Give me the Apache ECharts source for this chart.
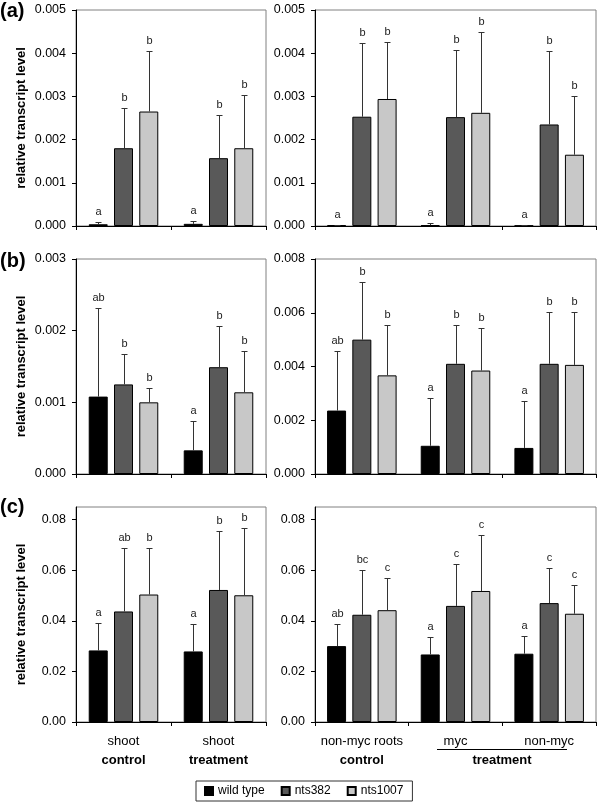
<!DOCTYPE html>
<html>
<head>
<meta charset="utf-8">
<script src="https://cdn.jsdelivr.net/npm/echarts@6/dist/echarts.min.js"></script>
<style>
  html, body { margin: 0; padding: 0; background: #fff; }
  #chart { width: 600px; height: 805px; }
</style>
</head>
<body>
<div id="chart"></div>
<script>
// genotypes (legend) and categories
const genotypes = ['wild type', 'nts382', 'nts1007'];
const shootGroups = ['control', 'treatment'];
const shootTissue = ['shoot', 'shoot'];
const rootGroups = ['control', 'treatment', 'treatment'];
const rootTissue = ['non-myc roots', 'myc', 'non-myc'];

// y tick labels per row
const ticksA = [0, 0.001, 0.002, 0.003, 0.004, 0.005];
const ticksBShoot = [0, 0.001, 0.002, 0.003];
const ticksBRoot = [0, 0.002, 0.004, 0.006, 0.008];
const ticksC = [0, 0.02, 0.04, 0.06, 0.08];

// (a) mean / sd / letters, one row per genotype
const aShootMean = [[0.00004, 0.00005], [0.0018, 0.00157], [0.00265, 0.0018]];
const aShootSd = [[0.00006, 0.00007], [0.00092, 0.00101], [0.0014, 0.00123]];
const aShootLetters = [['a', 'a'], ['b', 'b'], ['b', 'b']];
const aRootMean = [[0.00002, 0.00002, 0.00001], [0.00253, 0.00252, 0.00235], [0.00294, 0.00262, 0.00165]];
const aRootSd = [[0.00001, 0.00006, 0.00001], [0.00171, 0.00155, 0.00169], [0.00133, 0.00186, 0.00137]];
const aRootLetters = [['a', 'a', 'a'], ['b', 'b', 'b'], ['b', 'b', 'b']];

// (b)
const bShootMean = [[0.00108, 0.00033], [0.00125, 0.00149], [0.001, 0.00114]];
const bShootSd = [[0.00123, 0.00041], [0.00043, 0.00057], [0.0002, 0.00057]];
const bShootLetters = [['ab', 'a'], ['b', 'b'], ['b', 'b']];
const bRootMean = [[0.00236, 0.00105, 0.00097], [0.005, 0.0041, 0.0041], [0.00367, 0.00385, 0.00406]];
const bRootSd = [[0.00221, 0.00178, 0.00175], [0.00216, 0.00144, 0.00191], [0.00187, 0.00159, 0.00195]];
const bRootLetters = [['ab', 'a', 'a'], ['b', 'b', 'b'], ['b', 'b', 'b']];

// (c)
const cShootMean = [[0.0283, 0.0279], [0.0437, 0.0522], [0.0504, 0.0501]];
const cShootSd = [[0.011, 0.011], [0.025, 0.0235], [0.0183, 0.0265]];
const cShootLetters = [['a', 'a'], ['ab', 'b'], ['b', 'b']];
const cRootMean = [[0.030, 0.0267, 0.027], [0.0424, 0.0459, 0.047], [0.0442, 0.0518, 0.0428]];
const cRootSd = [[0.0089, 0.0069, 0.0071], [0.0175, 0.0167, 0.0138], [0.0129, 0.0221, 0.0113]];
const cRootLetters = [['ab', 'a', 'a'], ['bc', 'c', 'c'], ['c', 'c', 'c']];

const colors = ['#000000', '#595959', '#c8c8c8'];
const FONT = 'Liberation Sans, Arial, sans-serif';
const BAR_W = 19;
const BAR_STEP = BAR_W * 1.33; // bar width + gap

const panels = [
  { left: 76, top: 10, width: 190, height: 216, cats: shootGroups, mean: aShootMean, sd: aShootSd, letters: aShootLetters, ticks: ticksA, max: 0.005, digits: 3 },
  { left: 315, top: 10, width: 281, height: 216, cats: rootTissue, mean: aRootMean, sd: aRootSd, letters: aRootLetters, ticks: ticksA, max: 0.005, digits: 3 },
  { left: 76, top: 259, width: 190, height: 215, cats: shootGroups, mean: bShootMean, sd: bShootSd, letters: bShootLetters, ticks: ticksBShoot, max: 0.003, digits: 3 },
  { left: 315, top: 259, width: 281, height: 215, cats: rootTissue, mean: bRootMean, sd: bRootSd, letters: bRootLetters, ticks: ticksBRoot, max: 0.008, digits: 3 },
  { left: 76, top: 507, width: 190, height: 215, cats: shootGroups, mean: cShootMean, sd: cShootSd, letters: cShootLetters, ticks: ticksC, max: 0.085, digits: 2, labels: 'shoot' },
  { left: 315, top: 507, width: 281, height: 215, cats: rootTissue, mean: cRootMean, sd: cRootSd, letters: cRootLetters, ticks: ticksC, max: 0.085, digits: 2, labels: 'root' }
];

const grid = [], xAxis = [], yAxis = [], series = [];

panels.forEach(function (p, i) {
  grid.push({
    left: p.left, top: p.top, width: p.width, height: p.height,
    show: true, borderColor: '#808080', borderWidth: 1
  });

  let axisLabel = { show: false };
  if (p.labels === 'shoot') {
    axisLabel = {
      show: true, interval: 0, margin: 10,
      formatter: function (v, idx) { return '{a|' + shootTissue[idx] + '}\n{b|' + v + '}'; },
      rich: {
        a: { fontSize: 13, fontFamily: FONT, color: '#000', lineHeight: 19 },
        b: { fontSize: 13, fontFamily: FONT, color: '#000', fontWeight: 'bold', lineHeight: 19 }
      }
    };
  } else if (p.labels === 'root') {
    axisLabel = {
      show: true, interval: 0, margin: 10,
      formatter: function (v, idx) {
        return idx === 0 ? '{a|' + v + '}\n{b|' + rootGroups[idx] + '}' : '{a|' + v + '}\n{b| }';
      },
      rich: {
        a: { fontSize: 13, fontFamily: FONT, color: '#000', lineHeight: 19 },
        b: { fontSize: 13, fontFamily: FONT, color: '#000', fontWeight: 'bold', lineHeight: 19 }
      }
    };
  }

  xAxis.push({
    type: 'category', gridIndex: i, data: p.cats,
    axisLine: { show: true, lineStyle: { color: '#000', width: 1 } },
    axisTick: { show: true, length: 4, lineStyle: { color: '#000' } },
    axisLabel: axisLabel
  });

  const isLeft = i % 2 === 0;
  yAxis.push({
    type: 'value', gridIndex: i, min: 0, max: p.max, interval: p.ticks[1],
    splitLine: { show: false },
    axisLine: { show: true, lineStyle: { color: '#000', width: 1 } },
    axisTick: { show: true, length: 4, lineStyle: { color: '#000' }, customValues: p.ticks },
    axisLabel: {
      customValues: p.ticks, showMaxLabel: true, showMinLabel: true,
      margin: 10, fontSize: 12.5, fontFamily: FONT, color: '#000',
      formatter: function (v) { return v.toFixed(p.digits); }
    },
    name: isLeft ? 'relative transcript level' : '',
    nameLocation: 'middle', nameGap: 48,
    nameTextStyle: { fontSize: 13, fontWeight: 'bold', fontFamily: FONT, color: '#000' }
  });

  genotypes.forEach(function (g, gi) {
    series.push({
      type: 'bar', name: g, xAxisIndex: i, yAxisIndex: i,
      data: p.mean[gi], barWidth: BAR_W, barGap: '33%',
      itemStyle: { color: colors[gi], borderColor: '#000', borderWidth: 1 },
      emphasis: { disabled: true }
    });
  });

  // error bars + significance letters
  const errData = [], errLetters = [];
  p.mean.forEach(function (row, gi) {
    row.forEach(function (m, ci) {
      errData.push([ci, gi, m, m + p.sd[gi][ci]]);
      errLetters.push(p.letters[gi][ci]);
    });
  });
  series.push({
    type: 'custom', xAxisIndex: i, yAxisIndex: i, z: 5,
    data: errData,
    renderItem: function (params, api) {
      const base = api.coord([api.value(0), api.value(2)]);
      const top = api.coord([api.value(0), api.value(3)]);
      const x = Math.round(base[0] + (api.value(1) - 1) * BAR_STEP) + 0.5;
      const yt = Math.round(top[1]) + 0.5;
      return {
        type: 'group',
        children: [
          { type: 'line', shape: { x1: x, y1: base[1], x2: x, y2: yt }, style: { stroke: '#333', lineWidth: 1 } },
          { type: 'line', shape: { x1: x - 3, y1: yt, x2: x + 3, y2: yt }, style: { stroke: '#333', lineWidth: 1 } },
          { type: 'text', x: x, y: yt - 11, style: { text: errLetters[params.dataIndex], fontSize: 11, fontFamily: FONT, fill: '#222', align: 'center', verticalAlign: 'middle' } }
        ]
      };
    }
  });
});

const chart = echarts.init(document.getElementById('chart'));
chart.setOption({
  animation: false,
  backgroundColor: '#fff',
  textStyle: { fontFamily: FONT },
  grid: grid,
  xAxis: xAxis,
  yAxis: yAxis,
  series: series,
  legend: {
    data: genotypes,
    left: 196, top: 781,
    icon: 'rect', itemWidth: 8, itemHeight: 8, itemGap: 16,
    padding: [4, 9, 4, 8],
    borderColor: '#333', borderWidth: 1,
    selectedMode: false,
    textStyle: { fontSize: 12, fontFamily: FONT, color: '#000' }
  },
  graphic: [
    { type: 'text', left: 0, top: 1, style: { text: '(a)', fontSize: 20, fontWeight: 'bold', fontFamily: FONT, fill: '#000' } },
    { type: 'text', left: 0, top: 251, style: { text: '(b)', fontSize: 20, fontWeight: 'bold', fontFamily: FONT, fill: '#000' } },
    { type: 'text', left: 0, top: 497, style: { text: '(c)', fontSize: 20, fontWeight: 'bold', fontFamily: FONT, fill: '#000' } },
    { type: 'line', shape: { x1: 437, y1: 749.5, x2: 567, y2: 749.5 }, style: { stroke: '#000', lineWidth: 1 } },
    { type: 'text', x: 502, y: 760, style: { text: 'treatment', fontSize: 13, fontWeight: 'bold', fontFamily: FONT, fill: '#000', align: 'center', verticalAlign: 'middle' } }
  ]
});
</script>
</body>
</html>
